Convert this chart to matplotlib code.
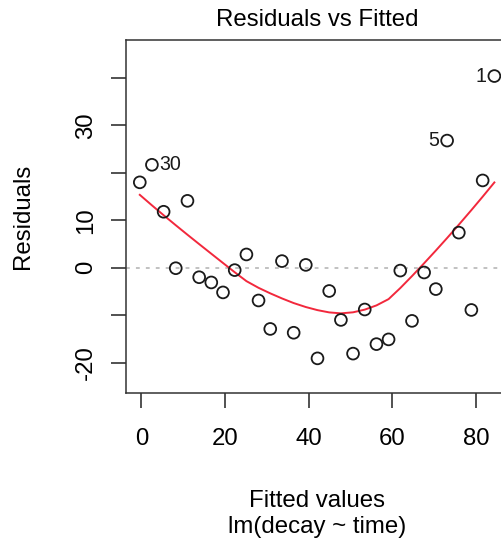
import matplotlib
matplotlib.use("Agg")
import matplotlib.pyplot as plt
import numpy as np

# fitted values and residuals of lm(decay ~ time), ordered by fitted value
fitted = [-0.4, 2.5, 5.3, 8.2, 11.0, 13.8, 16.7, 19.5, 22.3, 25.1, 28.0,
          30.8, 33.6, 36.4, 39.3, 42.1, 44.9, 47.7, 50.6, 53.4, 56.2, 59.1,
          61.9, 64.7, 67.6, 70.4, 73.1, 75.9, 78.9, 81.6, 84.4]
resid = [18.0, 21.7, 11.8, -0.1, 14.1, -2.0, -3.1, -5.2, -0.5, 2.8, -6.9,
         -12.9, 1.4, -13.7, 0.6, -19.1, -4.9, -11.0, -18.1, -8.8, -16.1, -15.1,
         -0.6, -11.2, -1.0, -4.5, 26.8, 7.4, -8.9, 18.4, 40.4]
# observation numbers (time 0 -> obs 1)
obs = list(range(31, 0, -1))
flagged = [1, 5, 30]

yticks = [-20, -10, 0, 10, 20, 30, 40]
ytick_labels = ["-20", "", "0", "10", "", "30", ""]
xticks = [0, 20, 40, 60, 80]


def lowess(x, y, f=2 / 3, iters=3):
    # same scheme as R's lowess(): tricube local lines + bisquare robustness
    x = np.asarray(x, float)
    y = np.asarray(y, float)
    n = len(x)
    ns = max(min(int(f * n + 1e-7), n), 2)
    span = x[-1] - x[0]
    rw = np.ones(n)
    ys = np.zeros(n)
    for it in range(iters + 1):
        nleft, nright = 0, ns - 1
        for i in range(n):
            while nright < n - 1 and x[i] - x[nleft] > x[nright + 1] - x[i]:
                nleft += 1
                nright += 1
            h = max(x[i] - x[nleft], x[nright] - x[i])
            r = np.abs(x - x[i])
            w = np.where(r <= 0.001 * h, 1.0,
                         np.where(r <= 0.999 * h, (1 - (r / h) ** 3) ** 3, 0.0))
            w[:nleft] = 0
            w[nright + 1:][x[nright + 1:] > x[i]] = 0
            if it > 0:
                w = w * rw
            a = w.sum()
            if a <= 0:
                ys[i] = y[i]
                continue
            w = w / a
            if h > 0:
                xm = (w * x).sum()
                c = (w * (x - xm) ** 2).sum()
                if np.sqrt(c) > 0.001 * span:
                    b = (x[i] - xm) / c
                    w = w * (b * (x - xm) + 1)
            ys[i] = (w * y).sum()
        if it == iters:
            break
        res = np.abs(y - ys)
        srt = np.sort(res)
        m1 = n // 2
        cmad = 3 * (srt[m1] + srt[m1 - 1]) if n % 2 == 0 else 6 * srt[m1]
        if cmad < 1e-7 * res.mean():
            break
        rr = res / cmad
        rw = np.where(res <= 0.001 * cmad, 1.0,
                      np.where(res <= 0.999 * cmad, (1 - rr ** 2) ** 2, 0.0))
    return x, ys


plt.rcParams['font.family'] = ['Liberation Sans', 'DejaVu Sans']
fs = 17.3

fig = plt.figure(figsize=(5.02, 5.41), dpi=100)
W, H = 502, 541
x0, x1, y0, y1 = 126, 509, 40, 393
ax = fig.add_axes([x0 / W, 1 - y1 / H, (x1 - x0) / W, (y1 - y0) / H])

ax.axhline(0, color="#b0b0b0", lw=1.1, ls=(0, (2.5, 4)), zorder=1)
ax.scatter(fitted, resid, s=72, facecolors="none", edgecolors="#1a1a1a",
           linewidths=1.3, zorder=3)
sx, sy = lowess(fitted, resid)
ax.plot(sx, sy, color="#f2283c", lw=1.4, zorder=2)

mid = (min(fitted) + max(fitted)) / 2
for fx, ry, o in zip(fitted, resid, obs):
    if o in flagged:
        if fx < mid:
            ax.annotate(str(o), (fx, ry), xytext=(5.5, 0), textcoords="offset points",
                        ha="left", va="center", fontsize=fs * 0.82, color="#1a1a1a")
        else:
            ax.annotate(str(o), (fx, ry), xytext=(-5.5, 0), textcoords="offset points",
                        ha="right", va="center", fontsize=fs * 0.82, color="#1a1a1a")

ax.set_xlim(-3.7, 87.9)
ax.set_ylim(-26.4, 48.0)
ax.set_xticks(xticks)
ax.set_yticks(yticks)
ax.set_yticklabels(ytick_labels, rotation=90, va="center")
ax.tick_params(labelsize=fs, length=11, width=1.1, color="#222222")
ax.tick_params(axis="x", pad=14.5)
ax.tick_params(axis="y", pad=10)
for sp in ax.spines.values():
    sp.set_color("#333333")
    sp.set_linewidth(1.1)

fig.text((x0 + x1) / 2 / W, 1 - 26 / H, "Residuals vs Fitted", ha="center",
         va="baseline", fontsize=fs)
fig.text((x0 + x1) / 2 / W, 1 - 507 / H, "Fitted values", ha="center",
         va="baseline", fontsize=fs)
fig.text((x0 + x1) / 2 / W, 1 - 533 / H, "lm(decay ~ time)", ha="center",
         va="baseline", fontsize=fs)
fig.text(23 / W, 1 - ((y0 + y1) / 2) / H, "Residuals", ha="center", va="center",
         rotation=90, fontsize=fs)

fig.savefig("out.png", dpi=100)
